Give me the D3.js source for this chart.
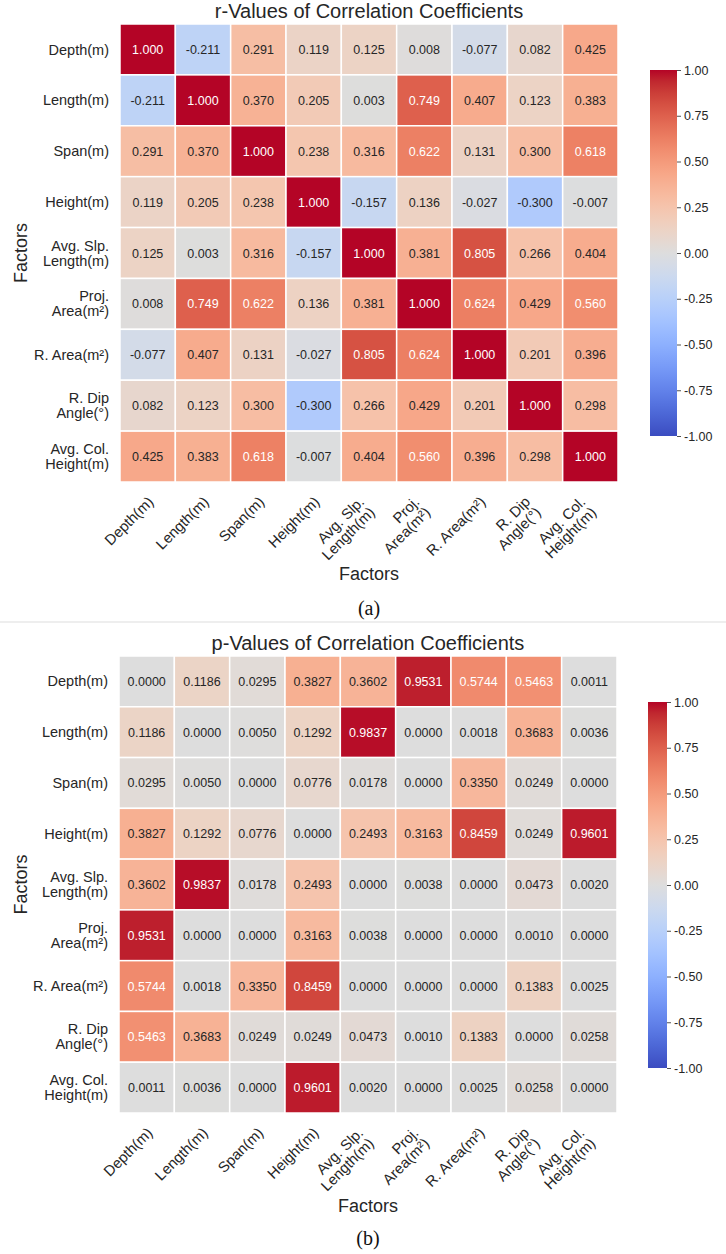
<!DOCTYPE html>
<html>
<head>
<meta charset="utf-8">
<script src="https://cdn.jsdelivr.net/npm/d3@7"></script>
<style>
  body { margin: 0; background: #fff; }
  svg { display: block; }
</style>
</head>
<body>
<svg id="fig" width="726" height="1254"></svg>
<script>
// factor names (rows and columns), "\n" marks a line break
var factors = ["Depth(m)", "Length(m)", "Span(m)", "Height(m)", "Avg. Slp.\nLength(m)",
    "Proj.\nArea(m²)", "R. Area(m²)", "R. Dip\nAngle(°)", "Avg. Col.\nHeight(m)"];

var rValues = [
    [1.000, -0.211, 0.291, 0.119, 0.125, 0.008, -0.077, 0.082, 0.425],
    [-0.211, 1.000, 0.370, 0.205, 0.003, 0.749, 0.407, 0.123, 0.383],
    [0.291, 0.370, 1.000, 0.238, 0.316, 0.622, 0.131, 0.300, 0.618],
    [0.119, 0.205, 0.238, 1.000, -0.157, 0.136, -0.027, -0.300, -0.007],
    [0.125, 0.003, 0.316, -0.157, 1.000, 0.381, 0.805, 0.266, 0.404],
    [0.008, 0.749, 0.622, 0.136, 0.381, 1.000, 0.624, 0.429, 0.560],
    [-0.077, 0.407, 0.131, -0.027, 0.805, 0.624, 1.000, 0.201, 0.396],
    [0.082, 0.123, 0.300, -0.300, 0.266, 0.429, 0.201, 1.000, 0.298],
    [0.425, 0.383, 0.618, -0.007, 0.404, 0.560, 0.396, 0.298, 1.000]
];

var pValues = [
    [0.0000, 0.1186, 0.0295, 0.3827, 0.3602, 0.9531, 0.5744, 0.5463, 0.0011],
    [0.1186, 0.0000, 0.0050, 0.1292, 0.9837, 0.0000, 0.0018, 0.3683, 0.0036],
    [0.0295, 0.0050, 0.0000, 0.0776, 0.0178, 0.0000, 0.3350, 0.0249, 0.0000],
    [0.3827, 0.1292, 0.0776, 0.0000, 0.2493, 0.3163, 0.8459, 0.0249, 0.9601],
    [0.3602, 0.9837, 0.0178, 0.2493, 0.0000, 0.0038, 0.0000, 0.0473, 0.0020],
    [0.9531, 0.0000, 0.0000, 0.3163, 0.0038, 0.0000, 0.0000, 0.0010, 0.0000],
    [0.5744, 0.0018, 0.3350, 0.8459, 0.0000, 0.0000, 0.0000, 0.1383, 0.0025],
    [0.5463, 0.3683, 0.0249, 0.0249, 0.0473, 0.0010, 0.1383, 0.0000, 0.0258],
    [0.0011, 0.0036, 0.0000, 0.9601, 0.0020, 0.0000, 0.0025, 0.0258, 0.0000]
];

var colorbarTicks = [-1, -0.75, -0.5, -0.25, 0, 0.25, 0.5, 0.75, 1];

// matplotlib "coolwarm" colormap, 33 stops
var coolwarm = ["#3b4cc0", "#445acc", "#4d68d7", "#5775e1", "#6282ea", "#6c8ef1", "#779af7", "#82a5fb",
    "#8db0fe", "#98b9ff", "#a3c2ff", "#aec9fd", "#b8d0f9", "#c2d5f4", "#ccd9ee", "#d5dbe6",
    "#dddddd", "#e5d8d1", "#ecd3c5", "#f1ccb9", "#f5c4ad", "#f7bba0", "#f7b194", "#f7a687",
    "#f49a7b", "#f18d6f", "#ec7f63", "#e57058", "#de604d", "#d55042", "#cb3e38", "#c0282f", "#b40426"];

var color = d3.scaleLinear()
    .domain(d3.range(coolwarm.length).map(function (i) { return -1 + 2 * i / (coolwarm.length - 1); }))
    .range(coolwarm)
    .interpolate(d3.interpolateRgb)
    .clamp(true);

var svg = d3.select("#fig");
var font = "'Liberation Sans', Arial, sans-serif";
var ink = "#262626";

// relative luminance, as seaborn does for annotation colours
function luminance(c) {
    var rgb = d3.rgb(c);
    var ch = [rgb.r, rgb.g, rgb.b].map(function (v) {
        v = v / 255;
        return v <= 0.03928 ? v / 12.92 : Math.pow((v + 0.055) / 1.055, 2.4);
    });
    return 0.2126 * ch[0] + 0.7152 * ch[1] + 0.0722 * ch[2];
}

// separator between the two figures
svg.append("rect")
    .attr("x", 0).attr("y", 621)
    .attr("width", 726).attr("height", 2)
    .attr("fill", "#eeeeee");

function drawPanel(opt) {
    var g = svg.append("g");

    var x = d3.scaleBand().domain(d3.range(factors.length)).range([opt.left, opt.right]);
    var y = d3.scaleBand().domain(d3.range(factors.length)).range([opt.top, opt.bottom]);

    // title
    g.append("text")
        .attr("x", (opt.left + opt.right) / 2)
        .attr("y", opt.top - 6)
        .attr("text-anchor", "middle")
        .attr("font-family", font)
        .attr("font-size", "20px")
        .attr("fill", ink)
        .text(opt.title);

    // cells
    var cells = [];
    opt.data.forEach(function (row, i) {
        row.forEach(function (v, j) { cells.push({ i: i, j: j, v: v }); });
    });

    g.selectAll(".cell")
        .data(cells).enter()
        .append("rect")
        .attr("class", "cell")
        .attr("x", function (d) { return x(d.j); })
        .attr("y", function (d) { return y(d.i); })
        .attr("width", x.bandwidth())
        .attr("height", y.bandwidth())
        .attr("fill", function (d) { return color(d.v); })
        .attr("stroke", "#ffffff")
        .attr("stroke-width", 1.5);

    g.selectAll(".annot")
        .data(cells).enter()
        .append("text")
        .attr("class", "annot")
        .attr("x", function (d) { return x(d.j) + x.bandwidth() / 2; })
        .attr("y", function (d) { return y(d.i) + y.bandwidth() / 2; })
        .attr("dy", "0.36em")
        .attr("text-anchor", "middle")
        .attr("font-family", font)
        .attr("font-size", "12.5px")
        .attr("fill", function (d) { return luminance(color(d.v)) > 0.408 ? ink : "#ffffff"; })
        .text(function (d) { return d.v.toFixed(opt.digits); });

    // y axis
    var yAxis = g.append("g")
        .attr("transform", "translate(" + opt.left + ",0)")
        .call(d3.axisLeft(y).tickSize(0).tickPadding(11).tickFormat(function (i) { return factors[i]; }));
    yAxis.select(".domain").remove();
    yAxis.selectAll("text")
        .attr("font-family", font)
        .attr("font-size", "14.5px")
        .attr("fill", ink)
        .each(function (i) {
            var t = d3.select(this);
            var lines = factors[i].split("\n");
            var xx = t.attr("x");
            t.text(null).attr("dy", null);
            lines.forEach(function (line, k) {
                t.append("tspan")
                    .attr("x", xx)
                    .attr("y", (k - (lines.length - 1) / 2) * 15)
                    .attr("dy", "0.35em")
                    .text(line);
            });
        });

    // x axis, labels turned 45 degrees and aligned on their right end
    var xAxis = g.append("g")
        .attr("transform", "translate(0," + opt.bottom + ")")
        .call(d3.axisBottom(x).tickSize(0).tickFormat(function (i) { return factors[i]; }));
    xAxis.select(".domain").remove();
    var fs = 14.8, pitch = 15, pad = 13, shift = 9;
    xAxis.selectAll(".tick text")
        .attr("font-family", font)
        .attr("font-size", fs + "px")
        .attr("fill", ink)
        .each(function (i) {
            var t = d3.select(this);
            var lines = factors[i].split("\n");
            var vTop = -0.74 * fs;
            var vBot = (lines.length - 1) * pitch + 0.21 * fs;
            t.text(null)
                .attr("y", null).attr("dy", null)
                .attr("text-anchor", "end")
                .attr("transform", "translate(" + (shift - vBot / Math.SQRT2) + "," + (pad - vTop / Math.SQRT2) + ") rotate(-45)");
            lines.forEach(function (line, k) {
                t.append("tspan")
                    .attr("x", 0)
                    .attr("y", k * pitch)
                    .text(line);
            });
        });

    // axis titles
    g.append("text")
        .attr("x", (opt.left + opt.right) / 2)
        .attr("y", opt.xTitleY)
        .attr("text-anchor", "middle")
        .attr("font-family", font)
        .attr("font-size", "18px")
        .attr("fill", ink)
        .text("Factors");

    g.append("text")
        .attr("transform", "translate(27," + (opt.top + opt.bottom) / 2 + ") rotate(-90)")
        .attr("text-anchor", "middle")
        .attr("font-family", font)
        .attr("font-size", "18px")
        .attr("fill", ink)
        .text("Factors");

    // caption
    g.append("text")
        .attr("x", (opt.left + opt.right) / 2)
        .attr("y", opt.captionY)
        .attr("text-anchor", "middle")
        .attr("font-family", "'Liberation Serif', 'Times New Roman', serif")
        .attr("font-size", "20px")
        .attr("fill", "#111111")
        .text(opt.caption);

    // colorbar
    var gradId = "grad" + opt.caption.replace(/\W/g, "");
    var grad = svg.append("defs").append("linearGradient")
        .attr("id", gradId)
        .attr("x1", 0).attr("y1", 1).attr("x2", 0).attr("y2", 0);
    grad.selectAll("stop")
        .data(coolwarm).enter()
        .append("stop")
        .attr("offset", function (d, k) { return k / (coolwarm.length - 1); })
        .attr("stop-color", function (d) { return d; });

    var cb = d3.scaleLinear().domain([-1, 1]).range([opt.cbBottom, opt.cbTop]);
    g.append("rect")
        .attr("x", opt.cbX)
        .attr("y", opt.cbTop)
        .attr("width", opt.cbW)
        .attr("height", opt.cbBottom - opt.cbTop)
        .attr("fill", "url(#" + gradId + ")");

    var cbAxis = g.append("g")
        .attr("transform", "translate(" + (opt.cbX + opt.cbW) + ",0)")
        .call(d3.axisRight(cb).tickValues(colorbarTicks).tickSize(4).tickPadding(3)
            .tickFormat(function (v) { return v.toFixed(2); }));
    cbAxis.select(".domain").remove();
    cbAxis.selectAll("line").attr("stroke", ink).attr("stroke-width", 0.8);
    cbAxis.selectAll("text")
        .attr("font-family", font)
        .attr("font-size", "12.5px")
        .attr("fill", ink);
}

drawPanel({
    data: rValues, digits: 3,
    title: "r-Values of Correlation Coefficients", caption: "(a)",
    left: 120, right: 618, top: 24, bottom: 482,
    xTitleY: 580, captionY: 615,
    cbX: 650, cbW: 27, cbTop: 70, cbBottom: 436
});

drawPanel({
    data: pValues, digits: 4,
    title: "p-Values of Correlation Coefficients", caption: "(b)",
    left: 119, right: 617, top: 656, bottom: 1113,
    xTitleY: 1212, captionY: 1245,
    cbX: 648, cbW: 19, cbTop: 702, cbBottom: 1068
});
</script>
</body>
</html>
